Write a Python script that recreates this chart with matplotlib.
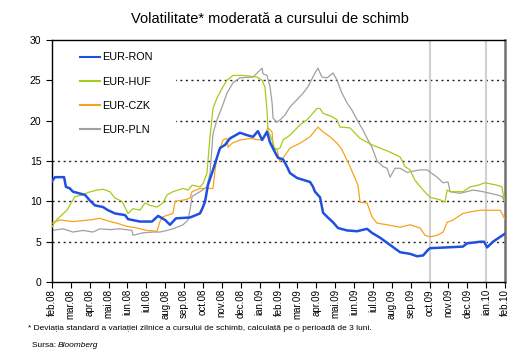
import matplotlib
matplotlib.use('Agg')
import matplotlib.pyplot as plt
from matplotlib.patches import Rectangle

plt.rcParams['font.family'] = ['Liberation Sans', 'DejaVu Sans']

# luni (0 = feb.08 ... 24 = feb.10)
month_labels = ['feb.08', 'mar.08', 'apr.08', 'mai.08', 'iun.08', 'iul.08', 'aug.08', 'sep.08',
                'oct.08', 'nov.08', 'dec.08', 'ian.09', 'feb.09', 'mar.09', 'apr.09', 'mai.09',
                'iun.09', 'iul.09', 'aug.09', 'sep.09', 'oct.09', 'nov.09', 'dec.09', 'ian.10', 'feb.10']

# EUR-RON
m_ron = [0, 0.16, 0.64, 0.74, 0.95, 1.11, 1.75, 2.01, 2.28, 2.70,
         2.97, 3.34, 3.87, 4.03, 4.66, 5.30, 5.62, 5.99, 6.25, 6.57,
         7.31, 7.84, 8.00, 8.11, 8.26, 8.53, 8.90, 9.17, 9.43, 9.96,
         10.33, 10.65, 10.91, 11.13, 11.39, 11.55, 11.81, 11.97, 12.24, 12.45,
         12.61, 12.98, 13.67, 13.83, 13.93, 14.20, 14.36, 14.57, 14.89, 15.15,
         15.63, 16.16, 16.69, 16.95, 17.38, 17.91, 18.44, 18.97, 19.34, 19.66,
         19.92, 20.03, 20.93, 21.77, 21.99, 22.68, 22.89, 23.05, 23.36, 23.74, 24.00]
v_ron = [12.5, 13.0, 13.0, 11.8, 11.6, 11.2, 10.8, 10.1, 9.5, 9.3,
         8.9, 8.5, 8.3, 7.8, 7.5, 7.5, 8.2, 7.7, 7.1, 7.9,
         8.0, 8.5, 9.3, 10.0, 12.0, 13.9, 16.6, 17.0, 17.8, 18.5,
         18.2, 18.0, 18.7, 17.6, 18.6, 17.3, 16.1, 15.4, 15.2, 14.3,
         13.5, 12.9, 12.4, 11.8, 11.2, 10.5, 8.6, 8.1, 7.4, 6.7,
         6.4, 6.3, 6.6, 6.1, 5.5, 4.6, 3.7, 3.5, 3.2, 3.3,
         4.0, 4.2, 4.3, 4.4, 4.8, 5.0, 5.0, 4.3, 5.0, 5.6, 6.0]

# EUR-HUF
m_huf = [0, 0.16, 0.42, 0.79, 1.22, 1.64, 1.91, 2.38, 2.70, 3.07,
         3.34, 3.71, 4.03, 4.29, 4.66, 4.93, 5.19, 5.56, 5.88, 6.09,
         6.41, 6.94, 7.21, 7.42, 7.84, 8.00, 8.21, 8.37, 8.53, 8.74,
         9.06, 9.27, 9.59, 10.12, 10.86, 11.13, 11.28, 11.39, 11.44, 11.66,
         11.81, 12.08, 12.24, 12.61, 12.98, 13.14, 13.51, 14.04, 14.20, 14.36,
         14.83, 15.10, 15.26, 15.79, 16.32, 16.95, 17.38, 17.91, 18.44, 18.70,
         18.97, 19.23, 19.66, 20.03, 20.56, 20.82, 20.93, 21.09, 21.77, 22.15,
         22.57, 22.94, 23.58, 23.84, 23.89, 24.00]
v_huf = [6.8, 7.5, 8.1, 8.9, 10.6, 10.8, 11.1, 11.4, 11.5, 11.2,
         10.4, 10.0, 8.5, 9.1, 8.9, 9.8, 9.5, 9.3, 9.8, 10.8,
         11.2, 11.6, 11.4, 12.0, 11.8, 12.2, 13.5, 18.0, 21.5, 22.8,
         24.2, 25.0, 25.6, 25.6, 25.4, 25.0, 24.2, 21.3, 18.8, 17.6,
         16.4, 16.6, 17.6, 18.2, 19.1, 19.5, 20.1, 21.5, 21.5, 20.9,
         20.5, 20.1, 19.2, 19.1, 17.8, 17.0, 16.6, 16.1, 15.5, 14.3,
         13.9, 12.6, 11.4, 10.5, 10.2, 9.9, 11.4, 11.2, 11.2, 11.8,
         12.0, 12.3, 12.0, 11.8, 11.0, 9.9]

# EUR-CZK
m_czk = [0, 0.42, 1.11, 2.01, 2.54, 3.07, 3.44, 3.97, 4.50, 5.03,
         5.56, 5.72, 5.88, 6.41, 6.52, 7.05, 7.31, 7.42, 7.84, 8.53,
         8.64, 8.74, 9.06, 9.27, 9.32, 9.54, 9.96, 10.49, 11.02, 11.18,
         11.44, 11.66, 11.71, 11.92, 12.08, 12.34, 12.61, 13.14, 13.67, 14.09,
         14.36, 14.73, 15.10, 15.36, 15.79, 16.21, 16.32, 16.69, 16.95, 17.22,
         17.75, 18.44, 18.97, 19.50, 19.76, 20.03, 20.40, 20.72, 20.93, 21.25,
         21.77, 22.15, 22.68, 23.36, 23.74, 23.89, 24.00]
v_czk = [7.3, 7.7, 7.5, 7.7, 7.9, 7.5, 7.3, 6.9, 6.7, 6.4,
         6.3, 7.5, 8.1, 8.5, 10.0, 10.2, 10.4, 11.2, 11.6, 11.6,
         13.9, 15.5, 17.6, 17.8, 16.7, 17.2, 17.6, 17.8, 17.6, 17.8,
         19.1, 18.6, 16.7, 16.4, 14.9, 15.7, 16.6, 17.2, 18.0, 19.2,
         18.6, 18.0, 17.2, 16.4, 14.3, 12.0, 9.9, 9.8, 8.1, 7.3,
         7.1, 6.8, 7.1, 6.7, 5.8, 5.6, 5.8, 6.2, 7.4, 7.7,
         8.5, 8.7, 8.9, 8.9, 8.9, 8.3, 7.7]

# EUR-PLN
m_pln = [0, 0.58, 1.11, 1.64, 2.17, 2.54, 3.07, 3.60, 4.24, 4.29,
         4.82, 5.35, 5.72, 6.09, 6.41, 6.94, 7.21, 7.31, 7.42, 7.84,
         8.21, 8.37, 8.53, 8.74, 9.01, 9.27, 9.59, 9.96, 10.65, 11.13,
         11.18, 11.39, 11.55, 11.66, 11.71, 11.92, 12.08, 12.34, 12.61, 12.98,
         13.30, 13.56, 13.93, 14.09, 14.30, 14.57, 14.89, 15.10, 15.36, 15.63,
         15.89, 16.16, 16.48, 16.74, 16.95, 17.22, 17.54, 17.75, 17.91, 18.17,
         18.44, 18.81, 19.50, 19.87, 20.40, 20.72, 20.98, 21.09, 21.62, 22.30,
         22.83, 23.58, 23.84, 24.00]
v_pln = [6.4, 6.6, 6.2, 6.4, 6.2, 6.6, 6.5, 6.6, 6.4, 5.8,
         6.1, 6.2, 6.2, 6.4, 6.6, 7.1, 7.7, 8.9, 10.6, 11.2,
         11.8, 13.5, 18.4, 20.1, 21.7, 23.4, 24.7, 25.3, 25.4, 26.5,
         25.8, 25.6, 24.2, 22.2, 20.3, 19.8, 20.1, 20.7, 21.7, 22.6,
         23.4, 24.2, 25.9, 26.5, 25.4, 25.3, 25.9, 25.0, 23.4, 22.2,
         21.3, 20.1, 18.8, 17.6, 16.7, 15.0, 14.3, 14.1, 13.0, 14.1,
         14.1, 13.6, 13.9, 13.9, 13.0, 12.3, 12.4, 11.2, 11.0, 11.4,
         11.2, 10.8, 10.6, 9.9]

fig = plt.figure(figsize=(5.25, 3.5), dpi=100)
ax = fig.add_axes([0.099, 0.194, 0.863, 0.692])

for y in [5, 10, 15, 20, 25]:
    ax.axhline(y, color='#222222', linestyle=(0, (1.5, 2.5)), linewidth=1.0, zorder=1)
for x in [20, 23]:
    ax.axvline(x, color='#d0d0d0', linewidth=1.5, zorder=1)

# fundal alb sub legenda (ascunde grila)
ax.add_patch(Rectangle((0.0, 0.6), 0.274, 0.4, transform=ax.transAxes,
                       facecolor='white', edgecolor='none', zorder=1.5))

l_pln, = ax.plot(m_pln, v_pln, color='#a0a0a0', linewidth=0.9, zorder=2, label='EUR-PLN')
l_czk, = ax.plot(m_czk, v_czk, color='#f7a21b', linewidth=0.9, zorder=3, label='EUR-CZK')
l_huf, = ax.plot(m_huf, v_huf, color='#a3cc1a', linewidth=0.9, zorder=4, label='EUR-HUF')
l_ron, = ax.plot(m_ron, v_ron, color='#1f50e0', linewidth=1.8, zorder=5, label='EUR-RON')

ax.set_xlim(0, 24)
ax.set_ylim(0, 30)
ax.set_xticks(range(len(month_labels)))
ax.set_xticklabels(month_labels, rotation=90, fontsize=7)
ax.set_yticks(range(0, 31, 5))
ax.tick_params(axis='y', labelsize=7.5, direction='out', length=4, width=0.8)
ax.tick_params(axis='x', direction='out', length=4, width=0.8, pad=1)
for s in ['left', 'bottom', 'top']:
    ax.spines[s].set_linewidth(1.0)
ax.spines['right'].set_color('#707070')
ax.spines['right'].set_linewidth(1.8)

leg = ax.legend(handles=[l_ron, l_huf, l_czk, l_pln], loc='upper left',
                bbox_to_anchor=(0.062, 0.948), frameon=False, fontsize=7.8,
                handlelength=1.8, handletextpad=0.2, labelspacing=1.3,
                borderpad=0.0, borderaxespad=0.0)
leg.set_zorder(10)
for line in leg.get_lines():
    line.set_linewidth(1.5)

fig.text(0.515, 0.945, 'Volatilitate* moderată a cursului de schimb', ha='center',
         va='center', fontsize=10.5)
fig.text(0.053, 0.06, '* Deviația standard a variației zilnice a cursului de schimb, '
         'calculată pe o perioadă de 3 luni.', fontsize=6, va='center')
fig.text(0.06, 0.014, 'Sursa: ', fontsize=6, va='center')
fig.text(0.11, 0.014, 'Bloomberg', fontsize=6, va='center', style='italic')

plt.savefig('out.png', dpi=100)
